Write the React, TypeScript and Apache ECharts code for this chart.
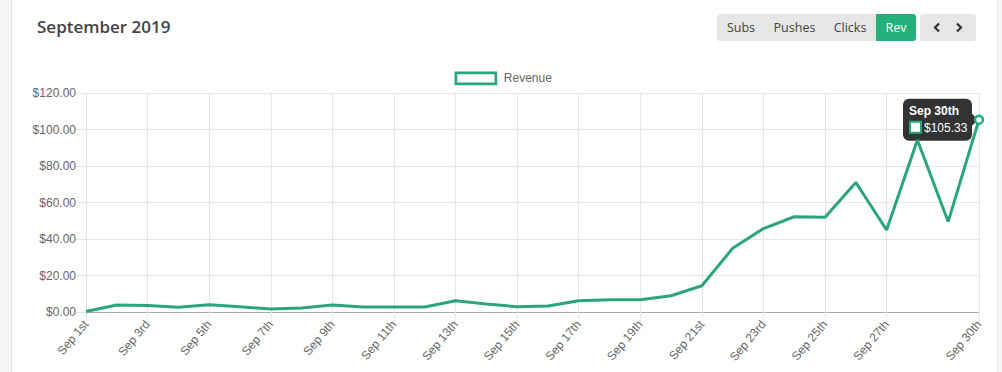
import React, { useEffect, useRef } from 'react';
import * as echarts from 'echarts';

const dayLabels = [
  'Sep 1st', 'Sep 2nd', 'Sep 3rd', 'Sep 4th', 'Sep 5th', 'Sep 6th', 'Sep 7th', 'Sep 8th', 'Sep 9th', 'Sep 10th',
  'Sep 11th', 'Sep 12th', 'Sep 13th', 'Sep 14th', 'Sep 15th', 'Sep 16th', 'Sep 17th', 'Sep 18th', 'Sep 19th', 'Sep 20th',
  'Sep 21st', 'Sep 22nd', 'Sep 23rd', 'Sep 24th', 'Sep 25th', 'Sep 26th', 'Sep 27th', 'Sep 28th', 'Sep 29th', 'Sep 30th',
];
const revenue = [
  0.3, 3.8, 3.5, 2.6, 4.0, 2.9, 1.6, 2.2, 3.8, 2.7,
  2.7, 2.7, 6.2, 4.4, 2.9, 3.3, 6.2, 6.7, 6.7, 8.9,
  14.4, 34.9, 45.7, 52.2, 51.9, 71.0, 44.9, 94.2, 49.5, 105.33,
];
const yMin = 0;
const yMax = 120;
const yStep = 20;
const seriesName = 'Revenue';
const buttons = ['Subs', 'Pushes', 'Clicks', 'Rev'];
const activeButton = 'Rev';
const highlightIndex = 29;

const GREEN = '#2ca679';
const FONT = '"Liberation Sans", Arial, Helvetica, sans-serif';
const showLabel = (idx: number) => (idx % 2 === 0 && idx <= 26) || idx === dayLabels.length - 1;

function Chart() {
  const ref = useRef<HTMLDivElement>(null);
  useEffect(() => {
    if (!ref.current) return;
    const chart = echarts.init(ref.current, undefined, { renderer: 'svg' });
    const data = revenue.map((v, i) =>
      i === highlightIndex
        ? { value: v, symbol: 'circle', symbolSize: 8, itemStyle: { color: '#fff', borderColor: '#1fae78', borderWidth: 2.5 } }
        : v
    );
    chart.setOption({
      animation: false,
      textStyle: { fontFamily: FONT },
      grid: { left: 86, right: 23, top: 93, bottom: 60, containLabel: false },
      legend: {
        left: 449.5,
        top: 66.5,
        itemWidth: 40,
        itemHeight: 11,
        itemGap: 10,
        selectedMode: false,
        textStyle: { color: '#666', fontSize: 12, fontFamily: FONT, padding: [0, 0, 0, 3] },
        data: [{ name: seriesName, icon: 'rect', itemStyle: { color: '#fff', borderColor: GREEN, borderWidth: 2.7 } }],
      },
      xAxis: {
        type: 'category',
        data: dayLabels,
        boundaryGap: false,
        axisLine: { show: true, lineStyle: { color: '#a8a8a8', width: 1 } },
        axisTick: { show: true, length: 10, interval: (i: number) => showLabel(i), lineStyle: { color: '#e6e6e6' } },
        splitLine: { show: true, interval: (i: number) => showLabel(i), lineStyle: { color: '#e6e6e6', width: 1 } },
        axisLabel: {
          interval: (i: number) => showLabel(i),
          rotate: 50,
          margin: 10,
          color: '#666',
          fontSize: 12,
          fontFamily: FONT,
        },
      },
      yAxis: {
        type: 'value',
        min: yMin,
        max: yMax,
        interval: yStep,
        axisLine: { show: false },
        axisTick: { show: true, length: 10, lineStyle: { color: '#e6e6e6' } },
        splitLine: { show: true, lineStyle: { color: '#e6e6e6', width: 1 } },
        axisLabel: {
          margin: 10,
          color: '#666',
          fontSize: 12,
          fontFamily: FONT,
          formatter: (v: number) => '$' + v.toFixed(2),
        },
      },
      series: [
        {
          name: seriesName,
          type: 'line',
          data,
          symbol: 'none',
          showSymbol: true,
          silent: true,
          lineStyle: { color: GREEN, width: 3 },
          itemStyle: { color: GREEN },
          z: 3,
        },
      ],
    });

    const p = chart.convertToPixel({ gridIndex: 0 }, [highlightIndex, revenue[highlightIndex]]) as number[];
    const px = p[0];
    const py = p[1];
    const boxW = 69;
    const boxH = 42;
    const bx = px - 7 - boxW;
    const by = py - boxH / 2;
    chart.setOption({
      graphic: [
        {
          type: 'group',
          z: 100,
          children: [
            {
              type: 'rect',
              shape: { x: bx, y: by, width: boxW, height: boxH, r: 6 },
              style: { fill: 'rgba(0,0,0,0.8)' },
            },
            {
              type: 'polygon',
              shape: { points: [[bx + boxW, py - 6], [px - 1, py], [bx + boxW, py + 6]] },
              style: { fill: 'rgba(0,0,0,0.8)' },
            },
            {
              type: 'text',
              style: {
                text: dayLabels[highlightIndex],
                x: bx + 6,
                y: by + 12,
                fill: '#fff',
                fontSize: 12,
                fontWeight: 'bold',
                fontFamily: FONT,
                verticalAlign: 'middle',
                align: 'left',
              },
            },
            {
              type: 'rect',
              shape: { x: bx + 7, y: by + 23, width: 11, height: 11 },
              style: { fill: '#fff', stroke: GREEN, lineWidth: 2 },
            },
            {
              type: 'text',
              style: {
                text: '$' + revenue[highlightIndex].toFixed(2),
                x: bx + 21,
                y: by + 29,
                fill: '#fff',
                fontSize: 12,
                fontFamily: FONT,
                verticalAlign: 'middle',
                align: 'left',
              },
            },
          ],
        },
      ],
    });
    return () => chart.dispose();
  }, []);
  return <div ref={ref} style={{ position: 'absolute', left: 0, top: 0, width: 1002, height: 372 }} />;
}

const Chevron = ({ dir }: { dir: 'left' | 'right' }) => (
  <svg width="8" height="11" viewBox="0 0 8 11" style={{ display: 'block' }}>
    <polyline
      points={dir === 'left' ? '6,1.5 2,5.5 6,9.5' : '2,1.5 6,5.5 2,9.5'}
      fill="none"
      stroke="#333"
      strokeWidth="2.2"
    />
  </svg>
);

export default function App() {
  const btnWidths: Record<string, number> = { Subs: 48, Pushes: 59, Clicks: 52, Rev: 40 };
  return (
    <div style={{ position: 'fixed', left: 0, top: 0, width: 1002, height: 372, background: '#f6f6f6', overflow: 'hidden' }}>
      <div
        style={{
          position: 'absolute',
          left: 11,
          top: -2,
          width: 985,
          height: 400,
          background: '#fff',
          border: '1px solid #e4e4e4',
        }}
      />
      <Chart />
      <div
        style={{
          position: 'absolute',
          left: 37,
          top: 15,
          fontFamily: '"Open Sans", sans-serif',
          fontWeight: 600,
          fontSize: 17,
          lineHeight: '24px',
          color: '#444',
          whiteSpace: 'nowrap',
        }}
      >
        September 2019
      </div>
      <div
        style={{
          position: 'absolute',
          left: 717,
          top: 14,
          height: 27,
          display: 'flex',
          background: '#e6e6e6',
          borderRadius: 3,
          overflow: 'hidden',
          fontFamily: '"Open Sans", sans-serif',
          fontSize: 12.5,
          color: '#444',
        }}
      >
        {buttons.map((b) => (
          <div
            key={b}
            style={{
              width: btnWidths[b],
              height: 27,
              lineHeight: '27px',
              textAlign: 'center',
              background: b === activeButton ? '#24b07b' : 'transparent',
              color: b === activeButton ? '#fff' : '#444',
            }}
          >
            {b}
          </div>
        ))}
      </div>
      <div
        style={{
          position: 'absolute',
          left: 920,
          top: 14,
          width: 56,
          height: 27,
          display: 'flex',
          alignItems: 'center',
          justifyContent: 'space-around',
          background: '#e6e6e6',
          borderRadius: 3,
          padding: '0 6px',
          boxSizing: 'border-box',
        }}
      >
        <Chevron dir="left" />
        <Chevron dir="right" />
      </div>
    </div>
  );
}
